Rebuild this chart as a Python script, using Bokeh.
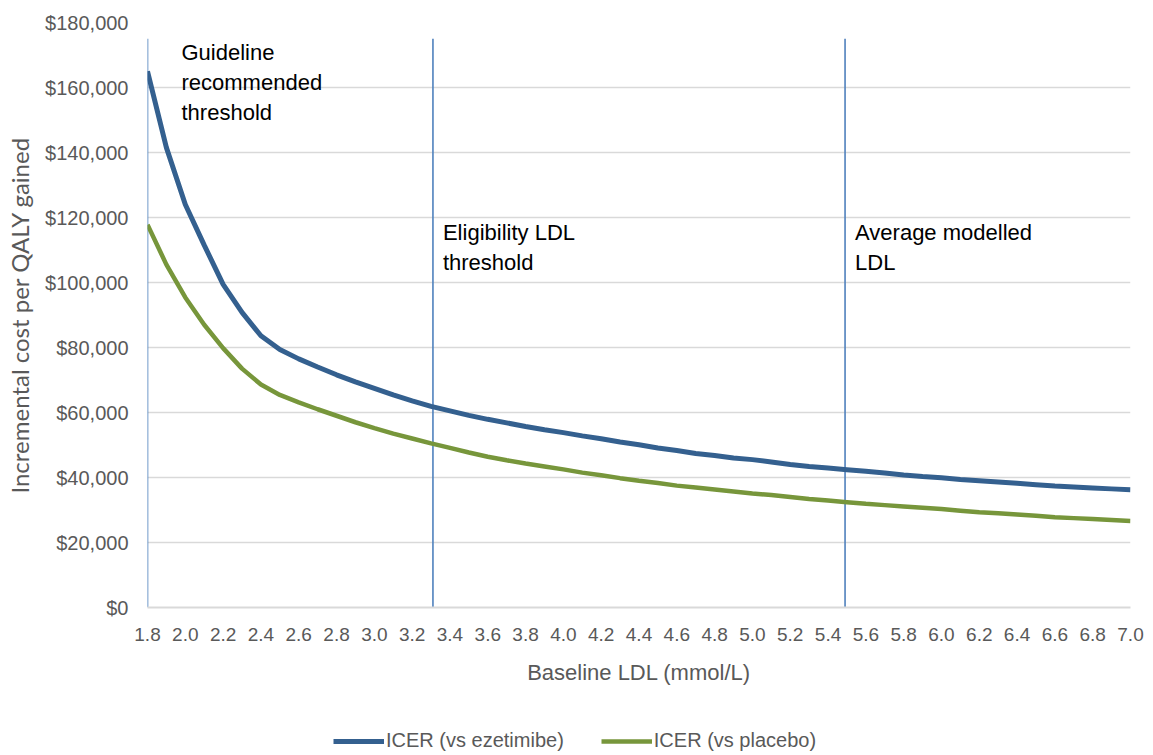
from bokeh.plotting import figure
from bokeh.models import (Range1d, FixedTicker, NumeralTickFormatter, Legend, LegendItem,
                          ColumnDataSource)
from bokeh.layouts import column
from bokeh.core.properties import value
from bokeh.embed import file_html
from bokeh.resources import INLINE

ldl = [1.8, 1.9, 2.0, 2.1, 2.2, 2.3, 2.4, 2.5, 2.6, 2.7, 2.8, 2.9, 3.0, 3.1, 3.2, 3.3, 3.4, 3.5,
       3.6, 3.7, 3.8, 3.9, 4.0, 4.1, 4.2, 4.3, 4.4, 4.5, 4.6, 4.7, 4.8, 4.9, 5.0, 5.1, 5.2, 5.3,
       5.4, 5.5, 5.6, 5.7, 5.8, 5.9, 6.0, 6.1, 6.2, 6.3, 6.4, 6.5, 6.6, 6.7, 6.8, 6.9, 7.0]

icer_ezetimibe = [165000, 141500, 124000, 111500, 99400, 90800, 83600, 79400, 76500, 74000,
                  71600, 69400, 67400, 65400, 63600, 61900, 60500, 59100, 57900, 56800,
                  55700, 54700, 53800, 52800, 51900, 50900, 50100, 49100, 48300, 47400,
                  46800, 46000, 45500, 44800, 44000, 43400, 42900, 42400, 41900, 41400,
                  40800, 40300, 39900, 39400, 39000, 38600, 38200, 37800, 37400, 37100,
                  36800, 36500, 36200]

icer_placebo = [117800, 105500, 95400, 87000, 79800, 73500, 68600, 65400, 63100, 61000,
                59000, 57000, 55200, 53500, 52000, 50500, 49100, 47700, 46400, 45300,
                44300, 43400, 42500, 41500, 40700, 39800, 39000, 38300, 37500, 36900,
                36300, 35700, 35100, 34600, 34000, 33400, 32900, 32400, 31900, 31500,
                31100, 30700, 30300, 29800, 29300, 29000, 28600, 28200, 27800, 27500,
                27200, 26900, 26600]

x_ticks = [1.8, 2.0, 2.2, 2.4, 2.6, 2.8, 3.0, 3.2, 3.4, 3.6, 3.8, 4.0, 4.2, 4.4, 4.6, 4.8,
           5.0, 5.2, 5.4, 5.6, 5.8, 6.0, 6.2, 6.4, 6.6, 6.8, 7.0]
y_ticks = [0, 20000, 40000, 60000, 80000, 100000, 120000, 140000, 160000, 180000]

threshold_x = [1.8, 3.31, 5.49]
threshold_top = [175000, 175000, 175000]
threshold_labels = ["Guideline\nrecommended\nthreshold", "Eligibility LDL\nthreshold", "Average modelled\nLDL"]
threshold_label_y = [174500, 119300, 119300]
threshold_label_dx = [34, 10, 10]

series_names = ["ICER (vs ezetimibe)", "ICER (vs placebo)"]
series_colors = ["#34608F", "#77963B"]
series_widths = [5, 4.5]

FONT = "Liberation Sans"

p = figure(width=1153, height=708, output_backend="svg", toolbar_location=None,
           x_range=Range1d(1.8, 7.0), y_range=Range1d(0, 180000),
           min_border_left=147, min_border_right=23, min_border_top=22, min_border_bottom=101)
p.outline_line_color = None
p.background_fill_color = "white"

p.xgrid.grid_line_color = None
p.ygrid.grid_line_color = "#D9D9D9"
p.ygrid.grid_line_width = 1.5

p.yaxis.ticker = FixedTicker(ticks=y_ticks)
p.yaxis.formatter = NumeralTickFormatter(format="$0,0")
p.yaxis.axis_line_color = None
p.yaxis.major_tick_line_color = None
p.yaxis.minor_tick_line_color = None
p.yaxis.major_tick_out = 0
p.yaxis.minor_tick_out = 0
p.yaxis.major_label_text_font = FONT
p.yaxis.major_label_text_font_size = "20px"
p.yaxis.major_label_text_color = "#595959"
p.yaxis.major_label_standoff = 19
p.yaxis.axis_label = "Incremental cost per QALY gained"
p.yaxis.axis_label_text_font = "Lato"
p.yaxis.axis_label_text_font_size = "24px"
p.yaxis.axis_label_text_font_style = "normal"
p.yaxis.axis_label_text_color = "#595959"
p.yaxis.axis_label_standoff = 8

p.xaxis.ticker = FixedTicker(ticks=x_ticks)
p.xaxis.formatter = NumeralTickFormatter(format="0.0")
p.xaxis.axis_line_color = "#D9D9D9"
p.xaxis.axis_line_width = 2
p.xaxis.major_tick_line_color = None
p.xaxis.minor_tick_line_color = None
p.xaxis.major_tick_out = 0
p.xaxis.minor_tick_out = 0
p.xaxis.major_label_text_font = FONT
p.xaxis.major_label_text_font_size = "19px"
p.xaxis.major_label_text_color = "#595959"
p.xaxis.major_label_standoff = 20
p.xaxis.axis_label = "Baseline LDL (mmol/L)"
p.xaxis.axis_label_text_font = FONT
p.xaxis.axis_label_text_font_size = "22px"
p.xaxis.axis_label_text_font_style = "normal"
p.xaxis.axis_label_text_color = "#595959"
p.xaxis.axis_label_standoff = 16

# threshold vertical lines
p.segment(x0=threshold_x, y0=[0, 0, 0], x1=threshold_x, y1=threshold_top,
          line_color="#4F81BD", line_width=1.6)

src = ColumnDataSource(dict(x=ldl, eze=icer_ezetimibe, pla=icer_placebo))
p.line("x", "eze", source=src, line_color=series_colors[0], line_width=series_widths[0])
p.line("x", "pla", source=src, line_color=series_colors[1], line_width=series_widths[1])

p.text(x=threshold_x, y=threshold_label_y, text=threshold_labels, x_offset=threshold_label_dx,
       text_font=value(FONT), text_font_size="22px", text_color="black",
       text_baseline="top", text_align="left", text_line_height=1.2)

# legend strip below the chart (its frame is aligned with the chart's frame by the column)
lg = figure(width=1153, height=47, output_backend="svg", toolbar_location=None,
            x_range=Range1d(0, 1), y_range=Range1d(0, 1),
            x_axis_location=None, y_axis_location=None,
            min_border_left=0, min_border_right=0, min_border_top=0, min_border_bottom=0)
lg.outline_line_color = None
lg.xgrid.grid_line_color = None
lg.ygrid.grid_line_color = None
# series drawn out of this strip's view; they only feed the legend glyphs
lr1 = lg.line("x", "eze", source=src, line_color=series_colors[0], line_width=series_widths[0])
lr2 = lg.line("x", "pla", source=src, line_color=series_colors[1], line_width=series_widths[1])

legend = Legend(items=[LegendItem(label=series_names[0], renderers=[lr1]),
                       LegendItem(label=series_names[1], renderers=[lr2])],
                orientation="horizontal", location=(186, 3), padding=0, margin=0,
                spacing=37, glyph_width=51, glyph_height=22, label_standoff=2,
                label_text_font=FONT, label_text_font_size="20px", label_text_color="#595959",
                border_line_color=None, background_fill_alpha=0)
lg.add_layout(legend, "center")

open("out.html", "w").write(file_html(column(p, lg), INLINE))
